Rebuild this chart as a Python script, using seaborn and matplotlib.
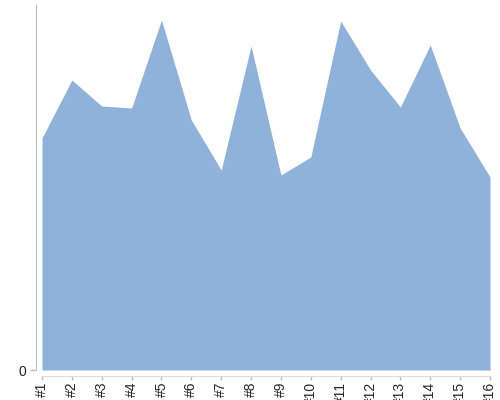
import matplotlib
matplotlib.use("Agg")
import matplotlib.pyplot as plt
import seaborn as sns
import pandas as pd

# values (arbitrary units, axis only labelled 0)
labels = ["#1", "#2", "#3", "#4", "#5", "#6", "#7", "#8",
          "#9", "#10", "#11", "#12", "#13", "#14", "#15", "#16"]
mins = [23.2, 29.0, 26.4, 26.2, 35.0, 25.0, 20.0, 32.4,
        19.5, 21.3, 34.9, 30.0, 26.3, 32.5, 24.2, 19.3]

df = pd.DataFrame({"pos": range(len(labels)), "mins": mins})

sns.set_style("white")
plt.rcParams['font.family'] = ['Liberation Sans', 'DejaVu Sans']

fig = plt.figure(figsize=(5, 4), dpi=100)
ax = fig.add_axes([0.084, 0.075, 0.896, 0.9125])

fill_color = "#8fb2da"
sns.lineplot(data=df, x="pos", y="mins", ax=ax, color=fill_color, linewidth=0)
ax.fill_between(df["pos"], 0, df["mins"], color=fill_color, linewidth=0)

ax.set_xlim(0, len(labels) - 1)
ax.set_ylim(0, 36.5)
ax.set_xticks(df["pos"])
ax.set_xticklabels(labels, fontsize=7, color="#333333")
ax.set_yticks([0])
ax.set_yticklabels(["0"], fontsize=11, color="#333333")
ax.set_xlabel("")
ax.set_ylabel("mins", fontsize=11, color="#333333", labelpad=12)

for side in ["top", "right"]:
    ax.spines[side].set_visible(False)
ax.spines["left"].set_position(("outward", 4))
ax.spines["bottom"].set_position(("outward", 4))
ax.spines["left"].set_color("#bbbbbb")
ax.spines["bottom"].set_color("#dddddd")
ax.tick_params(axis="y", length=4, color="#bbbbbb", width=1, pad=3, left=True)
ax.tick_params(axis="x", length=3, color="#bbbbbb", width=1, pad=1.5, bottom=True,
               labelrotation=90)
for t in ax.get_xticklabels():
    t.set_verticalalignment("top")
    t.set_horizontalalignment("center")

fig.savefig("out.png", dpi=100)
